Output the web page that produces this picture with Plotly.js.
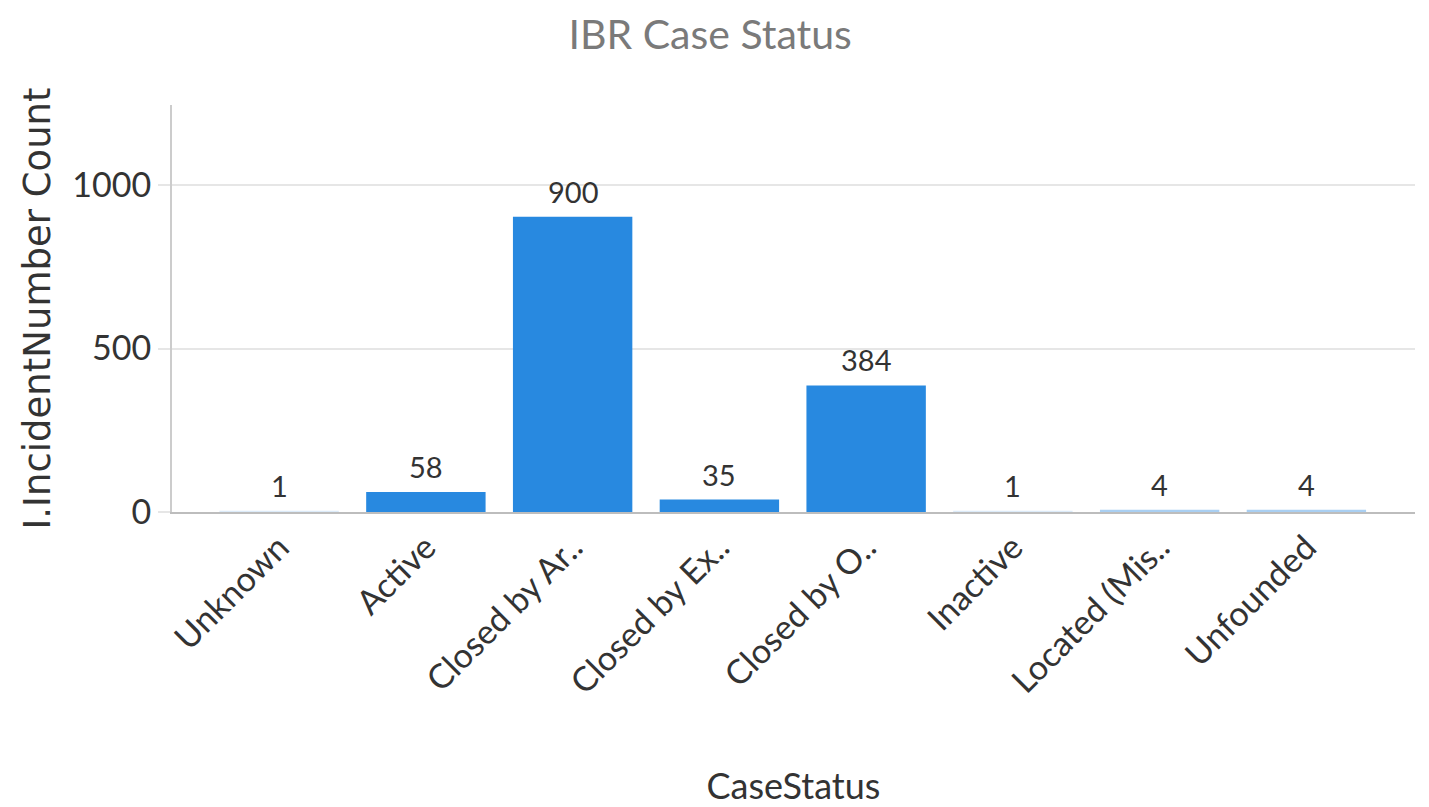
<!DOCTYPE html>
<html>
<head>
<meta charset="utf-8">
<script src="https://cdn.plot.ly/plotly-3.0.1.min.js"></script>
<style>html,body{margin:0;padding:0;background:#fff;}#chart{width:1429px;height:807px;}</style>
</head>
<body>
<div id="chart"></div>
<script>
const categories = ["Unknown", "Active", "Closed by Ar..", "Closed by Ex..", "Closed by O..", "Inactive", "Located (Mis..", "Unfounded"];
const counts = [1, 58, 900, 35, 384, 1, 4, 4];
const yTickVals = [0, 500, 1000];

const barColors = ["#dcebf9", "#2889e0", "#2889e0", "#2889e0", "#2889e0", "#dcebf9", "#a9cff2", "#a9cff2"];
const FONT = "Lato, 'Open Sans', sans-serif";

const trace = {
  type: "bar",
  x: categories,
  y: counts,
  marker: { color: barColors, line: { color: barColors, width: 2 } },
  hoverinfo: "x+y"
};

const valueLabels = categories.map((c, i) => ({
  x: c, y: counts[i], xref: "x", yref: "y",
  text: String(counts[i]), showarrow: false,
  yanchor: "bottom", yshift: 7,
  font: { family: FONT, size: 29, color: "#333" }
}));

const layout = {
  width: 1429, height: 807,
  margin: { l: 172, r: 14, t: 105, b: 295 },
  paper_bgcolor: "#fff", plot_bgcolor: "#fff",
  bargap: 0.2,
  showlegend: false,
  annotations: valueLabels,
  title: { text: "IBR Case Status", x: 0.497, xanchor: "center", y: 0.957, yanchor: "middle",
    font: { family: FONT, size: 41, color: "#7a7a7a" } },
  xaxis: {
    type: "category",
    range: [-0.73, 7.74],
    tickangle: -45,
    ticks: "",
    showline: true, linecolor: "#bdbdbd", linewidth: 2,
    showgrid: false, zeroline: false,
    tickfont: { family: FONT, size: 34, color: "#333" },
    title: { text: "CaseStatus", standoff: 74, font: { family: FONT, size: 36, color: "#333" } }
  },
  yaxis: {
    range: [0, 1245],
    tickvals: yTickVals,
    ticks: "outside", ticklen: 12, tickcolor: "#e6e6e6", tickwidth: 2,
    showline: true, linecolor: "#cccccc", linewidth: 2,
    showgrid: true, gridcolor: "#e6e6e6", gridwidth: 2,
    zeroline: false,
    tickfont: { family: FONT, size: 34, color: "#333" },
    title: { text: "I.IncidentNumber Count", standoff: 10, font: { family: "'DejaVu Sans', sans-serif", size: 37, color: "#333" } }
  }
};

Plotly.newPlot("chart", [trace], layout, { displayModeBar: false, responsive: false });
</script>
</body>
</html>
